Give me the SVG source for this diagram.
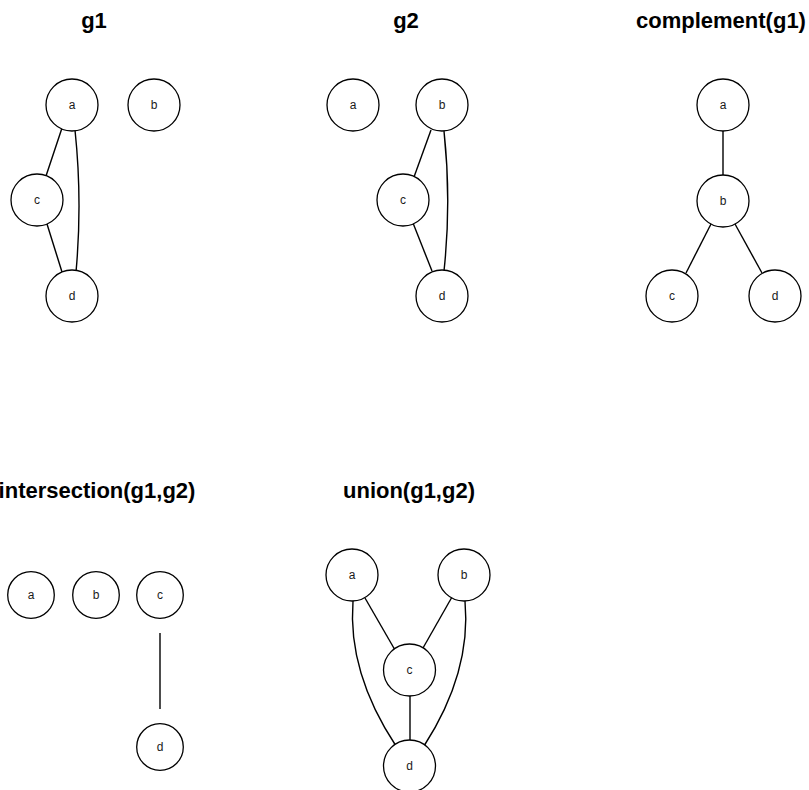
<svg xmlns="http://www.w3.org/2000/svg" width="809" height="790" viewBox="0 0 809 790">
  <style>
    .title { font-family: "Liberation Sans", Arial, sans-serif; font-weight: bold; font-size: 22px; fill: #000; text-anchor: middle; }
    .node circle { fill: #fff; stroke: #000; stroke-width: 1.3; }
    .node text { font-family: "Liberation Sans", Arial, sans-serif; font-size: 12px; fill: #1a1a1a; text-anchor: middle; }
    .edges path, .edges line { fill: none; stroke: #000; stroke-width: 1.4; }
  </style>
  <rect width="809" height="790" fill="#fff"/>

  <!-- titles -->
  <text class="title" x="94" y="28">g1</text>
  <text class="title" x="406" y="28">g2</text>
  <text class="title" x="721" y="28">complement(g1)</text>
  <text class="title" x="97" y="498">intersection(g1,g2)</text>
  <text class="title" x="409" y="498">union(g1,g2)</text>

  <!-- connectors -->
  <g class="edges" id="edges">
    <!-- g1 -->
    <line x1="62" y1="128" x2="46" y2="176"/>
    <path d="M75,130 Q82.5,201 76,272"/>
    <line x1="47" y1="224" x2="62" y2="272"/>
    <!-- g2 -->
    <line x1="431" y1="130" x2="414" y2="177"/>
    <path d="M444,131 Q451.5,201 444,271"/>
    <line x1="413" y1="223" x2="432" y2="271"/>
    <!-- complement(g1) -->
    <line x1="723" y1="131" x2="723" y2="176"/>
    <line x1="711" y1="224" x2="686" y2="273"/>
    <line x1="735" y1="224" x2="762" y2="273"/>
    <!-- intersection(g1,g2) -->
    <line x1="160" y1="633" x2="160" y2="709"/>
    <!-- union(g1,g2) -->
    <line x1="365" y1="598" x2="395" y2="650"/>
    <line x1="452" y1="597" x2="423" y2="648"/>
    <line x1="410" y1="695" x2="410" y2="742"/>
    <path d="M353,601 Q347.5,672.5 396,746"/>
    <path d="M465,601 Q471.5,672.5 424,746"/>
  </g>

  <!-- g1 nodes -->
  <g class="node" id="g1-a"><circle cx="72" cy="105" r="26"/><text x="72" y="109">a</text></g>
  <g class="node" id="g1-b"><circle cx="154" cy="105" r="26"/><text x="154" y="109">b</text></g>
  <g class="node" id="g1-c"><circle cx="37" cy="200" r="26"/><text x="37" y="204">c</text></g>
  <g class="node" id="g1-d"><circle cx="72" cy="296" r="26"/><text x="72" y="300">d</text></g>

  <!-- g2 nodes -->
  <g class="node" id="g2-a"><circle cx="353" cy="105" r="26"/><text x="353" y="109">a</text></g>
  <g class="node" id="g2-b"><circle cx="442" cy="105" r="26"/><text x="442" y="109">b</text></g>
  <g class="node" id="g2-c"><circle cx="403" cy="200" r="26"/><text x="403" y="204">c</text></g>
  <g class="node" id="g2-d"><circle cx="442" cy="296" r="26"/><text x="442" y="300">d</text></g>

  <!-- complement(g1) nodes -->
  <g class="node" id="cg1-a"><circle cx="723" cy="105" r="26"/><text x="723" y="109">a</text></g>
  <g class="node" id="cg1-b"><circle cx="723" cy="201" r="26"/><text x="723" y="205">b</text></g>
  <g class="node" id="cg1-c"><circle cx="672" cy="296" r="26"/><text x="672" y="300">c</text></g>
  <g class="node" id="cg1-d"><circle cx="775" cy="296" r="26"/><text x="775" y="300">d</text></g>

  <!-- intersection(g1,g2) nodes -->
  <g class="node" id="ig-a"><circle cx="31" cy="595" r="23.3"/><text x="31" y="599">a</text></g>
  <g class="node" id="ig-b"><circle cx="96" cy="595" r="23.3"/><text x="96" y="599">b</text></g>
  <g class="node" id="ig-c"><circle cx="160" cy="595" r="23.3"/><text x="160" y="599">c</text></g>
  <g class="node" id="ig-d"><circle cx="160" cy="747" r="23.3"/><text x="160" y="751">d</text></g>

  <!-- union(g1,g2) nodes -->
  <g class="node" id="ug-a"><circle cx="352" cy="575" r="26"/><text x="352" y="579">a</text></g>
  <g class="node" id="ug-b"><circle cx="464" cy="575" r="26"/><text x="464" y="579">b</text></g>
  <g class="node" id="ug-c"><circle cx="409.5" cy="670" r="26"/><text x="409.5" y="674">c</text></g>
  <g class="node" id="ug-d"><circle cx="409.5" cy="766" r="26"/><text x="409.5" y="770">d</text></g>
</svg>
